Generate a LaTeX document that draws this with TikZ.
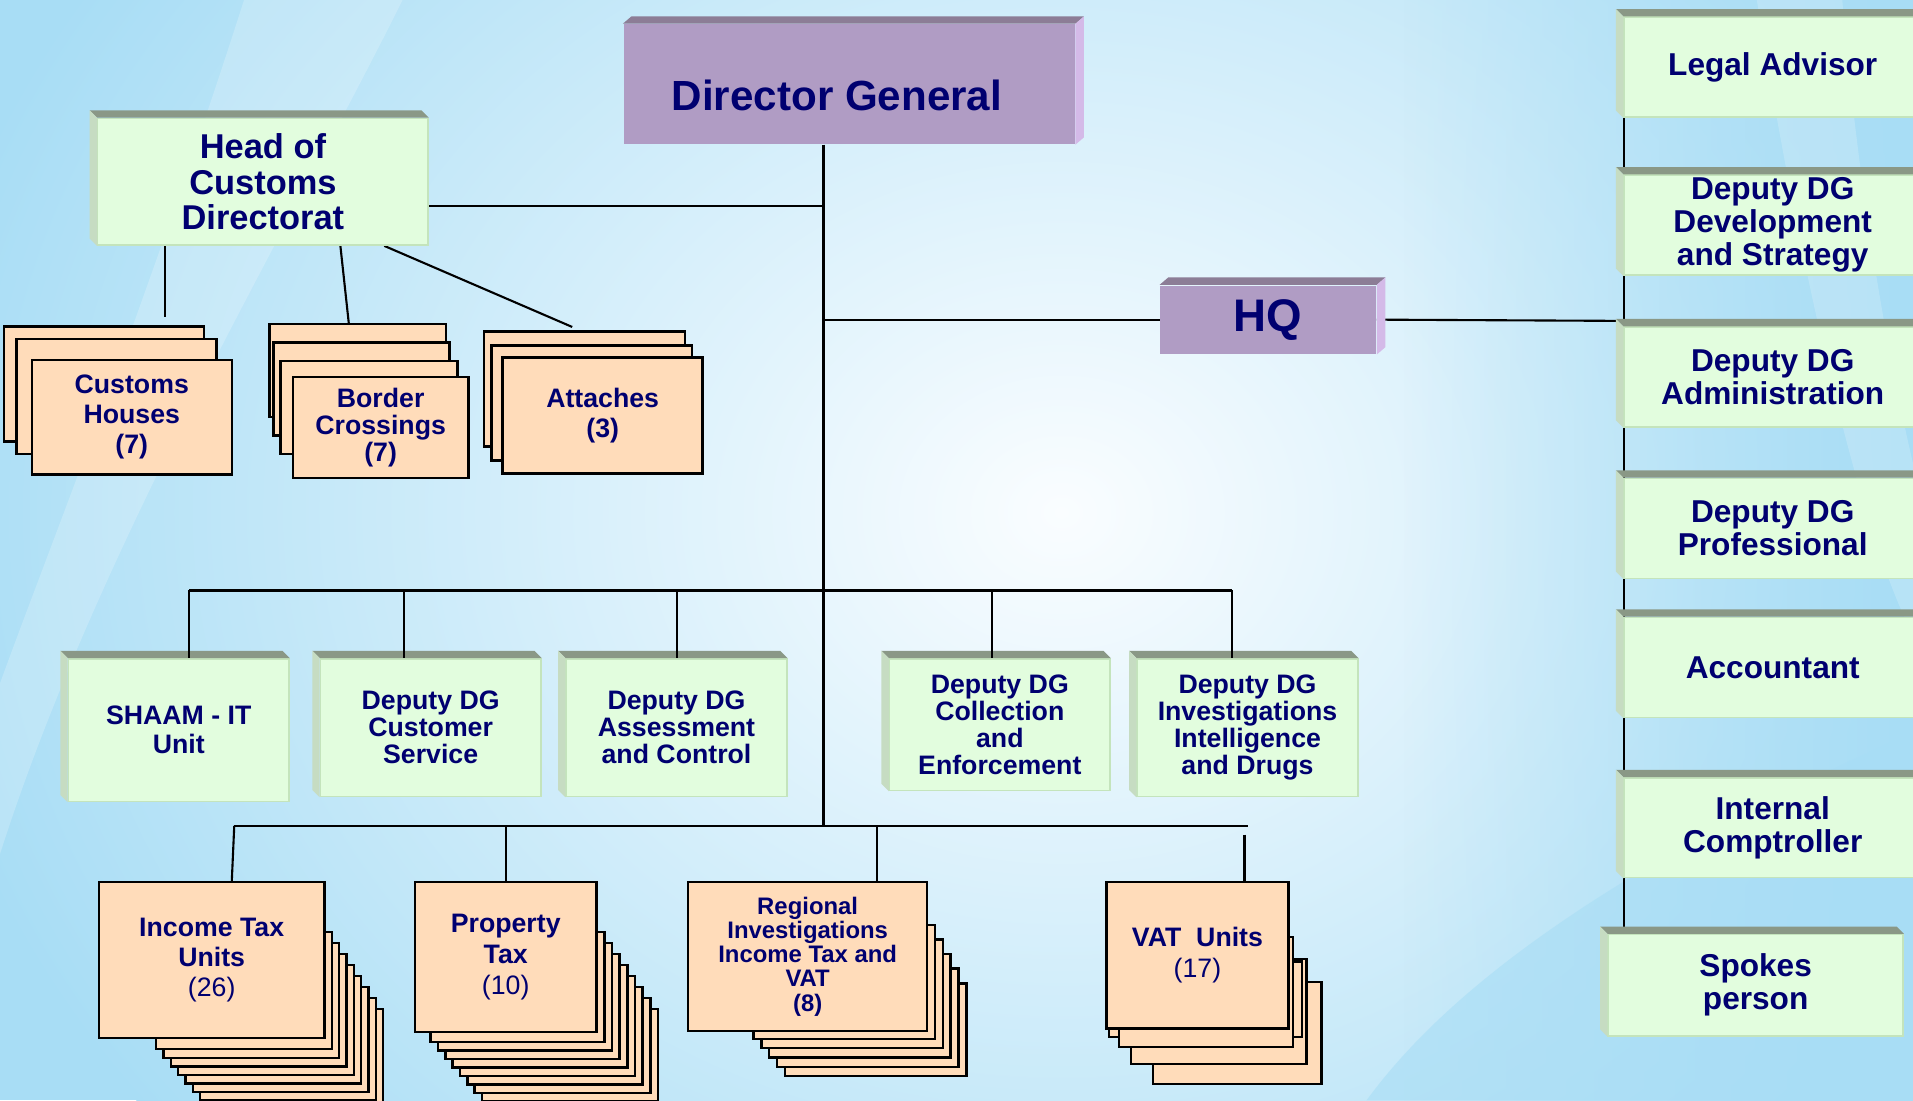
\documentclass[tikz,border=0pt]{standalone}
\usepackage{fontspec}
\setmainfont{Liberation Sans}
\usetikzlibrary{calc,fadings}

\definecolor{navy}{RGB}{0,0,112}
\definecolor{purfront}{RGB}{176,156,196}
\definecolor{purtop}{RGB}{140,125,150}
\definecolor{purside}{RGB}{212,186,232}
\definecolor{grnfront}{RGB}{226,253,222}
\definecolor{grntop}{RGB}{138,152,134}
\definecolor{grnside}{RGB}{198,220,194}
\definecolor{grnline}{RGB}{196,228,188}
\definecolor{peach}{RGB}{255,220,186}
\definecolor{bgblue}{RGB}{168,221,245}
\definecolor{bglight}{RGB}{250,253,255}

\pgfdeclarelayer{back}
\pgfdeclarelayer{lines}
\pgfsetlayers{back,lines,main}

% bevel on top and left side (green boxes)
\newcommand{\gbevel}[1]{%
  \fill[grntop] (#1.north west) -- (#1.north east) -- ++(-6,-6) -- ($(#1.north west)+(-6,-6)$) -- cycle;
  \fill[grnside] (#1.north west) -- ($(#1.north west)+(-6,-6)$) -- ($(#1.south west)+(-6,-6)$) -- (#1.south west) -- cycle;}
% bevel on top and right side (purple boxes)
\newcommand{\pbevel}[1]{%
  \fill[purtop] (#1.north west) -- ++(7,-6) -- ($(#1.north east)+(7,-6)$) -- (#1.north east) -- cycle;
  \fill[purside] (#1.north east) -- ++(7,-6) -- ($(#1.south east)+(7,-6)$) -- (#1.south east) -- cycle;}

\begin{document}
\begin{tikzpicture}[x=0.0122cm, y=-0.0122cm, text=navy,
    purple node/.style={fill=purfront, inner sep=0pt, align=center},
    green node/.style={fill=grnfront, draw=grnline, line width=0.4pt, inner sep=0pt, align=center},
    side node/.style={green node, minimum width=2.977cm, minimum height=1.0cm, font=\fontsize{9}{9.4}\selectfont\bfseries},
    mid node/.style={green node, minimum width=2.208cm, font=\fontsize{7.6}{7.7}\selectfont\bfseries},
    peach node/.style={fill=peach, draw=black, line width=0.7pt, inner sep=0pt, align=center, font=\fontsize{7.6}{8.5}\selectfont\bfseries},
    stackbox/.style={fill=peach, draw=black, line width=0.7pt},
    link/.style={draw=black, line width=0.6pt}]

\useasboundingbox (0,0) rectangle (1568,902);

\begin{pgfonlayer}{back}
  \fill[bgblue] (0,0) rectangle (1568,902);
  \shade[inner color=bglight, outer color=bgblue] (870,420) ellipse (950 and 800);
  \fill[white, opacity=0.2] (200,0) .. controls (120,250) and (40,450) .. (0,560) -- (0,700) .. controls (80,450) and (230,200) .. (330,0) -- cycle;
  \fill[bgblue, path fading=west] (1150,0) rectangle (1568,902);
  \fill[white, opacity=0.18] (1440,0) .. controls (1480,250) and (1530,450) .. (1568,520) -- (1568,380) .. controls (1540,260) and (1520,120) .. (1510,0) -- cycle;
  \fill[bgblue, opacity=0.6] (1568,600) .. controls (1300,720) and (1180,820) .. (1120,902) -- (1568,902) -- cycle;
\end{pgfonlayer}

% top level
\node[purple node, minimum width=4.514cm, minimum height=1.196cm, text height=0.52cm, text depth=0pt,
      font=\fontsize{12}{14}\selectfont\bfseries] (dg) at (696,69) {Director General\hspace*{0.244cm}};
\node[purple node, minimum width=2.159cm, minimum height=0.683cm, font=\fontsize{13}{15}\selectfont\bfseries] (hq) at (1039.5,262) {HQ};
\node[green node, minimum width=3.306cm, minimum height=1.269cm, font=\fontsize{9.8}{10.2}\selectfont\bfseries] (hoc) at (215.5,149) {Head of\\Customs\\Directorat};

% right column
\node[side node] (legal) at (1453,55) {Legal Advisor};
\node[side node] (devs) at (1453,184.5) {Deputy DG\\Development\\and Strategy};
\node[side node] (admin) at (1453,309) {Deputy DG\\Administration};
\node[side node] (prof) at (1453,433) {Deputy DG\\Professional};
\node[side node] (acct) at (1453,547) {Accountant};
\node[side node] (comp) at (1453,678.5) {Internal\\Comptroller};
\node[side node, minimum width=2.952cm, minimum height=1.013cm] (spokes) at (1439,807.5) {Spokes\\person};

% middle row
\node[mid node, minimum height=1.427cm, font=\fontsize{7.6}{8.3}\selectfont\bfseries] (shaam) at (146.5,598.5) {SHAAM - IT\\Unit};
\node[mid node, minimum height=1.379cm] (cust) at (353,596.5) {Deputy DG\\Customer\\Service};
\node[mid node, minimum height=1.379cm] (assess) at (554.5,596.5) {Deputy DG\\Assessment\\and Control};
\node[mid node, minimum height=1.318cm] (coll) at (819.5,594) {Deputy DG\\Collection\\and\\Enforcement};
\node[mid node, minimum height=1.379cm] (invest) at (1022.5,596.5) {Deputy DG\\Investigations\\Intelligence\\and Drugs};

\foreach \n in {hoc, legal, devs, admin, prof, acct, comp, spokes, shaam, cust, assess, coll, invest}
  \gbevel{\n};
\foreach \n in {dg, hq}
  \pbevel{\n};

% customs stacks
\draw[stackbox] (3.5,267.8) rectangle (167.4,361.8);
\draw[stackbox] (13.6,278) rectangle (177.5,372);
\node[peach node, minimum width=2.001cm, minimum height=1.147cm] (chs) at (108,342) {Customs\\Houses\\(7)};
\draw[stackbox] (221,265.6) rectangle (365.6,341.9);
\draw[stackbox] (224,280.6) rectangle (368.6,357);
\draw[stackbox] (230,295.9) rectangle (375,372);
\node[peach node, minimum width=1.757cm, minimum height=1.013cm, font=\fontsize{7.6}{7.7}\selectfont\bfseries] (bcr) at (312,350.5) {Border\\Crossings\\(7)};
\draw[stackbox] (396.8,271.9) rectangle (561.4,365.9);
\draw[stackbox] (403,283.3) rectangle (567,377.3);
\node[peach node, minimum width=2.001cm, minimum height=1.159cm, font=\fontsize{7.6}{8.7}\selectfont\bfseries] (att) at (494,340.5) {Attaches\\(3)};

% tax stacks
\foreach \k in {8,7,...,1}
  \draw[stackbox] ({122+6*\k},{755+9*\k}) rectangle ({266+6*\k},{853+7*\k});
\node[peach node, minimum width=2.257cm, minimum height=1.562cm] (income) at (173.5,787) {Income Tax\\Units\\{\mdseries(26)}};
\foreach \k in {8,7,...,1}
  \draw[stackbox] ({347+6*\k},{755+9*\k}) rectangle ({489+6.3*\k},{847+7*\k});
\node[peach node, minimum width=1.818cm, minimum height=1.501cm, font=\fontsize{7.6}{8.7}\selectfont\bfseries] (prop) at (414.5,784.5) {Property\\Tax\\{\mdseries(10)}};
\foreach \k in {5,4,...,1}
  \draw[stackbox] ({611+6.5*\k},{746+12*\k}) rectangle ({760+6.4*\k},{844+7.6*\k});
\node[peach node, minimum width=2.391cm, minimum height=1.488cm, font=\fontsize{6.8}{6.9}\selectfont\bfseries] (regio) at (662,784) {Regional\\Investigations\\Income Tax and\\VAT\\(8)};
\draw[stackbox] (945,805) rectangle (1083,888.6);
\draw[stackbox] (927,786) rectangle (1070.7,872);
\draw[stackbox] (909,788) rectangle (1067,850);
\draw[stackbox] (917,768) rectangle (1060,858);
\node[peach node, minimum width=1.818cm, minimum height=1.464cm, font=\fontsize{7.6}{8.7}\selectfont\bfseries] (vat) at (981.5,783) {VAT\ \ Units\\{\mdseries(17)}};

\begin{pgfonlayer}{lines}
  \coordinate (tr) at (675,677);
  \coordinate (hocj) at (675,169);
  \coordinate (rc) at (1325,263);
  \coordinate (rv) at (1331,0);
  \draw[link] (tr |- dg.south) -- (tr);
  \draw[link] (hoc.east |- hocj) -- (hocj);
  \draw[link] (tr |- hq.west) -- (hq.west);
  \draw[link] (hq.east) -- (rc);
  \draw[link] (legal.south -| rv) -- (spokes.north -| rv);
  % customs
  \draw[link] (135,0 |- hoc.south) -- (135,260);
  \draw[link] (279,0 |- hoc.south) -- (286,266);
  \draw[link] (315,0 |- hoc.south) -- (469,268);
  % tax units
  \draw[link] (192,677) -- (1023,677);
  \draw[link] (192,677) -- (190,0 |- income.north);
  \draw[link] (415,677) -- (415,0 |- prop.north);
  \draw[link] (719,677) -- (719,0 |- regio.north);
  \draw[link] (1020,684) -- (1020,0 |- vat.north);
\end{pgfonlayer}

% deputies
\draw[link] (155,484) -- (1010,484);
\foreach \x/\n in {155/shaam, 331/cust, 555/assess, 813/coll, 1010/invest}
  \draw[link] (\x,484) -- (\x,0 |- \n.north);

\end{tikzpicture}
\end{document}
